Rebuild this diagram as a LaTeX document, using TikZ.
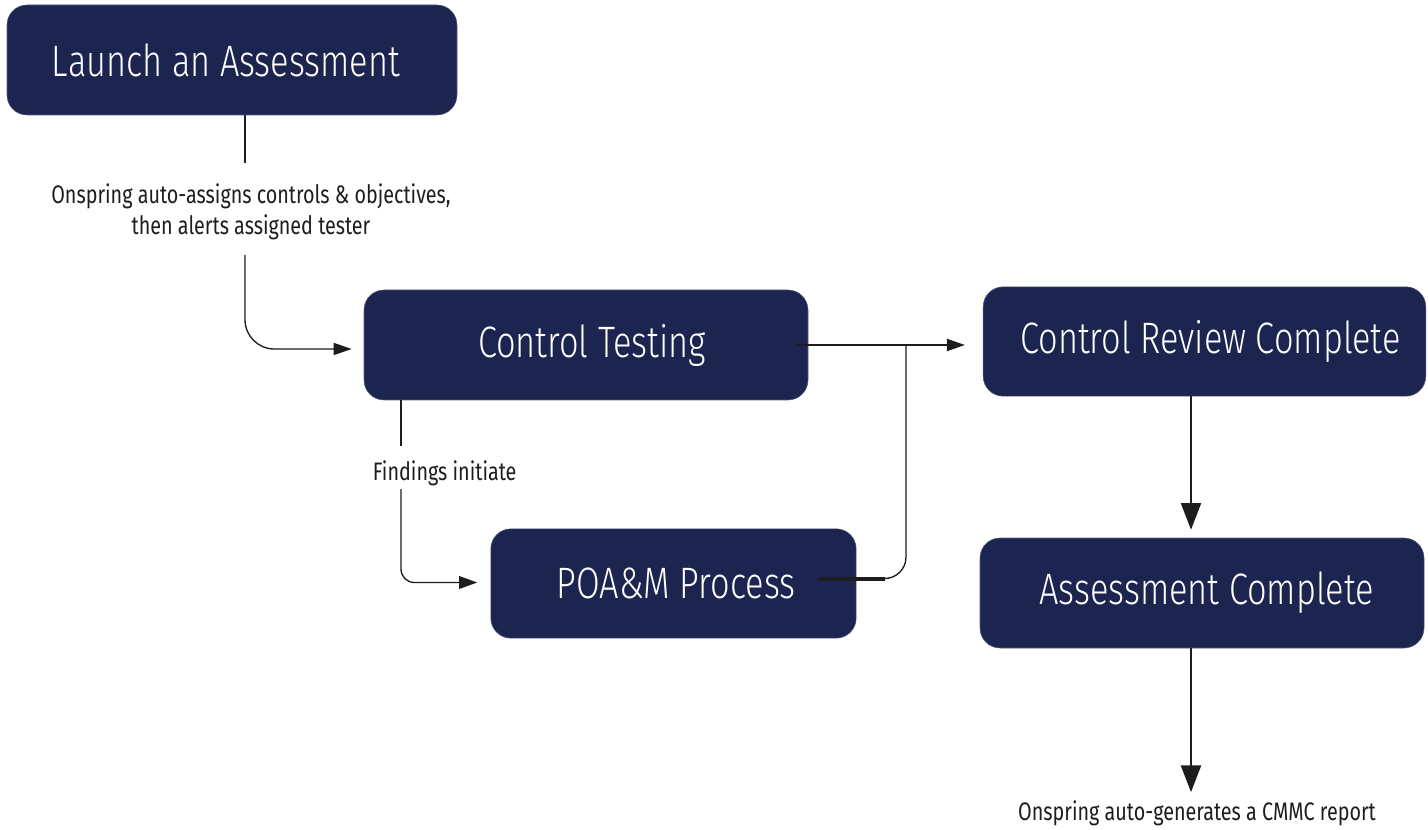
\documentclass[tikz,border=0pt]{standalone}
\usepackage{fontspec}
\setmainfont{Fira Sans Light}[FakeStretch=0.78]
\newfontfamily\notefont{Fira Sans}[FakeStretch=0.78]
\usepackage{tikz}
\usetikzlibrary{arrows.meta}
\usetikzlibrary{positioning}
\definecolor{navy}{RGB}{27,37,80}
\definecolor{ink}{RGB}{30,28,30}
\tikzstyle{stage}=[rectangle, rounded corners=15pt, fill=navy, draw=navy!75!white, text=white, font=\fontsize{33}{40}\selectfont, inner sep=0pt]
\tikzstyle{note}=[text=ink, font=\notefont\fontsize{19}{23}\selectfont, align=center, inner sep=2pt]
\tikzstyle{link}=[draw=ink, line width=1pt]
\tikzstyle{flow}=[draw=ink, line width=1.5pt, -{Triangle[length=13.5pt, width=9pt]}]
\tikzstyle{drop}=[draw=ink, line width=1.5pt, -{Triangle[length=20pt, width=15pt]}]

\begin{document}
\begin{tikzpicture}[x=0.75pt, y=-0.75pt]
        \useasboundingbox (0,0) rectangle (1428,830);

        % Stages
        \node at (232,60) [stage, minimum width=337.5pt, minimum height=82.5pt] (launch) {Launch an Assessment\hspace*{9pt}};
        \node at (586,345) [stage, minimum width=333pt, minimum height=82.5pt] (testing) {\hspace*{9pt}Control Testing};
        \node at (1204.5,341.5) [stage, minimum width=332pt, minimum height=82pt] (review) {\hspace*{9pt}Control Review Complete};
        \node at (673.5,583.5) [stage, minimum width=274pt, minimum height=82pt] (poam) {\hspace*{4pt}POA\&M Process};
        \node at (1202,593) [stage, minimum width=333pt, minimum height=82.5pt] (done) {\hspace*{7pt}Assessment Complete};

        % Notes
        \node at (251,212) [note] (assign) {Onspring auto-assigns controls \& objectives,\\then alerts assigned tester};
        \node at (370,473) [note, anchor=west] (findings) {Findings initiate};
        \node at (1197,813) [note] (report) {Onspring auto-generates a CMMC report};

        % Break points
        \coordinate (gap1) at (245,163);
        \coordinate (gap2) at (245,255);
        \coordinate (gap3) at (401,446);
        \coordinate (gap4) at (401,489);
        \coordinate (merge) at (906,345);
        \coordinate (downx) at (1191,0);

        % Launch to testing
        \draw [link] (launch.south -| gap1) -- (gap1);
        \draw [link, rounded corners=22pt, -{Triangle[length=13.5pt, width=9pt]}, shorten >=9pt]
          (gap2) |- ([shift={(0,4)}]testing.west);

        % Testing to POA&M
        \draw [link] (testing.south -| gap3) -- (gap3);
        \draw [link, rounded corners=10pt, -{Triangle[length=13.5pt, width=9.5pt]}, shorten >=10pt]
          (gap4) |- ([shift={(0,-1)}]poam.west);

        % Testing to review
        \draw [flow, shorten >=13.5pt] ([shift={(-11,0)}]testing.east) -- (testing.east -| review.west);

        % POA&M back into the flow
        \draw [link, rounded corners=16pt] ([shift={(-38,-5)}]poam.east) -| (merge);
        \draw [draw=ink, line width=3pt] ([shift={(-38,-5)}]poam.east) -- ([shift={(29,-5)}]poam.east);

        % Down the right column
        \draw [drop, shorten >=6pt] (review.south -| downx) -- (done.north -| downx);
        \draw [drop, shorten >=4pt] (done.south -| downx) -- (report.north -| downx);
      \end{tikzpicture}
\end{document}
